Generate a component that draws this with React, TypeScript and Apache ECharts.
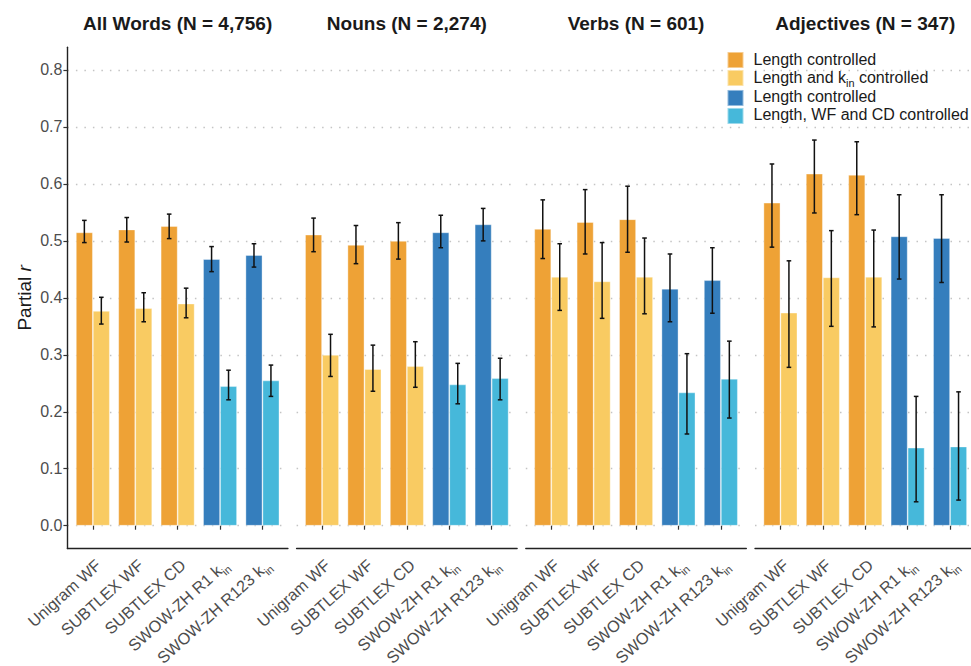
import React, { useEffect, useRef } from 'react';
import * as echarts from 'echarts';

// Predictors on the x axis ("_in" marks a subscripted "in")
const categories = ['Unigram WF', 'SUBTLEX WF', 'SUBTLEX CD', 'SWOW-ZH R1 k_in', 'SWOW-ZH R123 k_in'];
const swowCategory = [false, false, false, true, true];
const panelTitles = ['All Words (N = 4,756)', 'Nouns (N = 2,274)', 'Verbs (N = 601)', 'Adjectives (N = 347)'];

const seriesKeys = ['freqLen', 'freqKin', 'swowLen', 'swowFull'];
const seriesLabels = ['Length controlled', 'Length and k_in controlled', 'Length controlled', 'Length, WF and CD controlled'];
const seriesColors = ['#EEA236', '#F9CB62', '#357EBD', '#46B8DA'];

// All words
const allLen = [0.515, 0.520, 0.526, 0.468, 0.475];
const allLenLo = [0.497, 0.498, 0.504, 0.446, 0.454];
const allLenHi = [0.536, 0.541, 0.547, 0.490, 0.495];
const allCtrl = [0.377, 0.382, 0.390, 0.245, 0.255];
const allCtrlLo = [0.354, 0.358, 0.365, 0.221, 0.227];
const allCtrlHi = [0.401, 0.409, 0.417, 0.273, 0.282];

// Nouns
const nounLen = [0.511, 0.493, 0.500, 0.515, 0.529];
const nounLenLo = [0.481, 0.460, 0.468, 0.488, 0.500];
const nounLenHi = [0.540, 0.527, 0.532, 0.545, 0.557];
const nounCtrl = [0.300, 0.275, 0.280, 0.248, 0.259];
const nounCtrlLo = [0.262, 0.236, 0.243, 0.214, 0.221];
const nounCtrlHi = [0.336, 0.317, 0.323, 0.285, 0.294];

// Verbs
const verbLen = [0.521, 0.533, 0.538, 0.416, 0.431];
const verbLenLo = [0.469, 0.477, 0.480, 0.358, 0.373];
const verbLenHi = [0.572, 0.590, 0.596, 0.477, 0.488];
const verbCtrl = [0.437, 0.429, 0.437, 0.234, 0.258];
const verbCtrlLo = [0.378, 0.364, 0.372, 0.161, 0.189];
const verbCtrlHi = [0.495, 0.497, 0.505, 0.302, 0.324];

// Adjectives
const adjLen = [0.567, 0.618, 0.616, 0.508, 0.505];
const adjLenLo = [0.489, 0.549, 0.546, 0.433, 0.427];
const adjLenHi = [0.635, 0.677, 0.674, 0.581, 0.581];
const adjCtrl = [0.374, 0.436, 0.437, 0.137, 0.139];
const adjCtrlLo = [0.278, 0.350, 0.349, 0.042, 0.045];
const adjCtrlHi = [0.465, 0.518, 0.519, 0.227, 0.235];

const panels = [
  { len: allLen, lenLo: allLenLo, lenHi: allLenHi, ctrl: allCtrl, ctrlLo: allCtrlLo, ctrlHi: allCtrlHi },
  { len: nounLen, lenLo: nounLenLo, lenHi: nounLenHi, ctrl: nounCtrl, ctrlLo: nounCtrlLo, ctrlHi: nounCtrlHi },
  { len: verbLen, lenLo: verbLenLo, lenHi: verbLenHi, ctrl: verbCtrl, ctrlLo: verbCtrlLo, ctrlHi: verbCtrlHi },
  { len: adjLen, lenLo: adjLenLo, lenHi: adjLenHi, ctrl: adjCtrl, ctrlLo: adjCtrlLo, ctrlHi: adjCtrlHi },
];

// Layout (pixels)
const FONT = 'Liberation Sans, Arial, Helvetica, sans-serif';
const PANEL_LEFT = 67.4;
const PANEL_STEP = 229.2;
const PANEL_W = 220.5;
const UNIT = PANEL_W / 5.2; // one category step, ggplot-style 0.6 padding each side
const BAR_W = UNIT * 0.4;
const Y_MIN = -0.04;
const Y_MAX = 0.84;
const PLOT_TOP = 47.2;
const PLOT_H = 501.3;
const GRID_TOP = PLOT_TOP + ((Y_MAX - 0.8) / (Y_MAX - Y_MIN)) * PLOT_H;
const GRID_H = (0.8 / (Y_MAX - Y_MIN)) * PLOT_H;

const richText = (s: string) =>
  s
    .split('_in')
    .map((part) => (part ? `{m|${part}}` : ''))
    .join('{s|in}');

const richStyles = (size: number) => ({
  m: { fontSize: size, lineHeight: size + 2, verticalAlign: 'top', fontFamily: FONT },
  s: { fontSize: size * 0.68, lineHeight: size * 0.68, verticalAlign: 'top', padding: [size * 0.56, 0, 0, 0], fontFamily: FONT },
});

function buildOption() {
  const grid: any[] = [];
  const xAxis: any[] = [];
  const yAxis: any[] = [];
  const series: any[] = [];
  const graphic: any[] = [];

  panels.forEach((panel, p) => {
    const left = PANEL_LEFT + p * PANEL_STEP;
    const barGridIdx = 2 * p;
    const axisGridIdx = 2 * p + 1;

    // bar grid: categories centred like a discrete ggplot scale
    grid.push({ left: left + 0.1 * UNIT, width: 5 * UNIT, top: PLOT_TOP, height: PLOT_H, outerBoundsMode: 'none', containLabel: false });
    // axis grid: panel frame, dotted y grid lines and tick labels
    grid.push({ left, width: PANEL_W, top: GRID_TOP, height: GRID_H, outerBoundsMode: 'none', containLabel: false });

    xAxis.push({
      type: 'category',
      gridIndex: barGridIdx,
      data: categories,
      axisLine: { show: false },
      axisTick: { show: true, alignWithLabel: true, length: 4, lineStyle: { color: '#333', width: 1.2 } },
      axisLabel: {
        interval: 0,
        rotate: 42,
        margin: 8,
        color: '#4d4d4d',
        verticalAlign: 'top',
        hideOverlap: false,
        formatter: (v: string) => richText(v),
        rich: richStyles(16.3),
      },
      splitLine: { show: false },
    });
    xAxis.push({
      type: 'value',
      gridIndex: axisGridIdx,
      min: 0,
      max: 1,
      offset: PLOT_TOP + PLOT_H - (GRID_TOP + GRID_H),
      axisLine: { show: true, onZero: false, lineStyle: { color: '#222', width: 1.4 } },
      axisTick: { show: false },
      axisLabel: { show: false },
      splitLine: { show: false },
    });

    yAxis.push({
      type: 'value',
      gridIndex: barGridIdx,
      min: Y_MIN,
      max: Y_MAX,
      offset: 0.1 * UNIT,
      axisLine: { show: p === 0, onZero: false, lineStyle: { color: '#222', width: 1.4 } },
      axisTick: { show: false },
      axisLabel: { show: false },
      splitLine: { show: false },
      name: p === 0 ? 'Partial {it|r}' : '',
      nameLocation: 'middle',
      nameGap: 33,
      nameRotate: 90,
      nameTextStyle: {
        fontSize: 19,
        color: '#1a1a1a',
        fontFamily: FONT,
        rich: { it: { fontSize: 19, fontStyle: 'italic', color: '#1a1a1a', fontFamily: FONT } },
      },
    });
    yAxis.push({
      type: 'value',
      gridIndex: axisGridIdx,
      min: 0,
      max: 0.8,
      interval: 0.1,
      axisLine: { show: false, onZero: false },
      axisTick: { show: p === 0, length: 4, lineStyle: { color: '#333', width: 1.2 } },
      axisLabel: {
        show: p === 0,
        fontSize: 16,
        color: '#4d4d4d',
        margin: 5,
        fontFamily: FONT,
        formatter: (v: number) => v.toFixed(1),
      },
      splitLine: { show: true, lineStyle: { color: '#c4c4c4', width: 1.4, type: [1.5, 7] } },
    });

    // bars: length-only and fully controlled estimates, orange for frequency, blue for SWOW
    seriesKeys.forEach((key, k) => {
      const isLen = k % 2 === 0;
      const forSwow = k >= 2;
      const vals = isLen ? panel.len : panel.ctrl;
      series.push({
        type: 'bar',
        name: key,
        xAxisIndex: barGridIdx,
        yAxisIndex: barGridIdx,
        stack: `${isLen ? 'len' : 'ctrl'}${p}`,
        barWidth: BAR_W,
        barGap: '0%',
        silent: true,
        itemStyle: { color: seriesColors[k], borderColor: 'rgba(255,255,255,0.45)', borderWidth: 0.8 },
        data: categories.map((_, i) => (swowCategory[i] === forSwow ? vals[i] : '-')),
        z: 2,
      });
    });

    // 95% confidence intervals
    const ciData: number[][] = [];
    categories.forEach((_, i) => {
      ciData.push([i, panel.lenLo[i], panel.lenHi[i], -1]);
      ciData.push([i, panel.ctrlLo[i], panel.ctrlHi[i], 1]);
    });
    series.push({
      type: 'custom',
      name: `ci${p}`,
      xAxisIndex: barGridIdx,
      yAxisIndex: barGridIdx,
      silent: true,
      z: 5,
      encode: { x: 0, y: [1, 2] },
      data: ciData,
      renderItem: (_params: any, api: any) => {
        const i = api.value(0);
        const lo = api.coord([i, api.value(1)]);
        const hi = api.coord([i, api.value(2)]);
        const x = lo[0] + (api.value(3) * BAR_W) / 2;
        const cap = 2.3;
        const style = { stroke: '#111', lineWidth: 1.5 };
        return {
          type: 'group',
          children: [
            { type: 'line', shape: { x1: x, y1: lo[1], x2: x, y2: hi[1] }, style },
            { type: 'line', shape: { x1: x - cap, y1: hi[1], x2: x + cap, y2: hi[1] }, style },
            { type: 'line', shape: { x1: x - cap, y1: lo[1], x2: x + cap, y2: lo[1] }, style },
          ],
        };
      },
    });

    graphic.push({
      type: 'text',
      x: left + PANEL_W / 2,
      y: 23,
      silent: true,
      style: {
        text: panelTitles[p],
        align: 'center',
        verticalAlign: 'middle',
        fontSize: 19,
        fontWeight: 'bold',
        fontFamily: FONT,
        fill: '#1a1a1a',
      },
    });
  });

  return {
    animation: false,
    backgroundColor: '#ffffff',
    textStyle: { fontFamily: FONT },
    grid,
    xAxis,
    yAxis,
    series,
    graphic,
    legend: {
      data: seriesKeys,
      orient: 'vertical',
      left: 726.5,
      top: 51,
      padding: 0,
      itemWidth: 16,
      itemHeight: 16,
      itemGap: 0,
      icon: 'rect',
      selectedMode: false,
      formatter: (name: string) => richText(seriesLabels[seriesKeys.indexOf(name)]),
      textStyle: { color: '#1a1a1a', padding: [0, 0, 0, 5], rich: richStyles(16) },
    },
  };
}

export default function App() {
  const ref = useRef<HTMLDivElement>(null);
  useEffect(() => {
    document.body.style.margin = '0';
    if (!ref.current) return;
    const chart = echarts.init(ref.current, undefined, { renderer: 'svg' });
    chart.setOption(buildOption() as any);
    return () => chart.dispose();
  }, []);
  return <div ref={ref} style={{ width: 971, height: 666 }} />;
}
